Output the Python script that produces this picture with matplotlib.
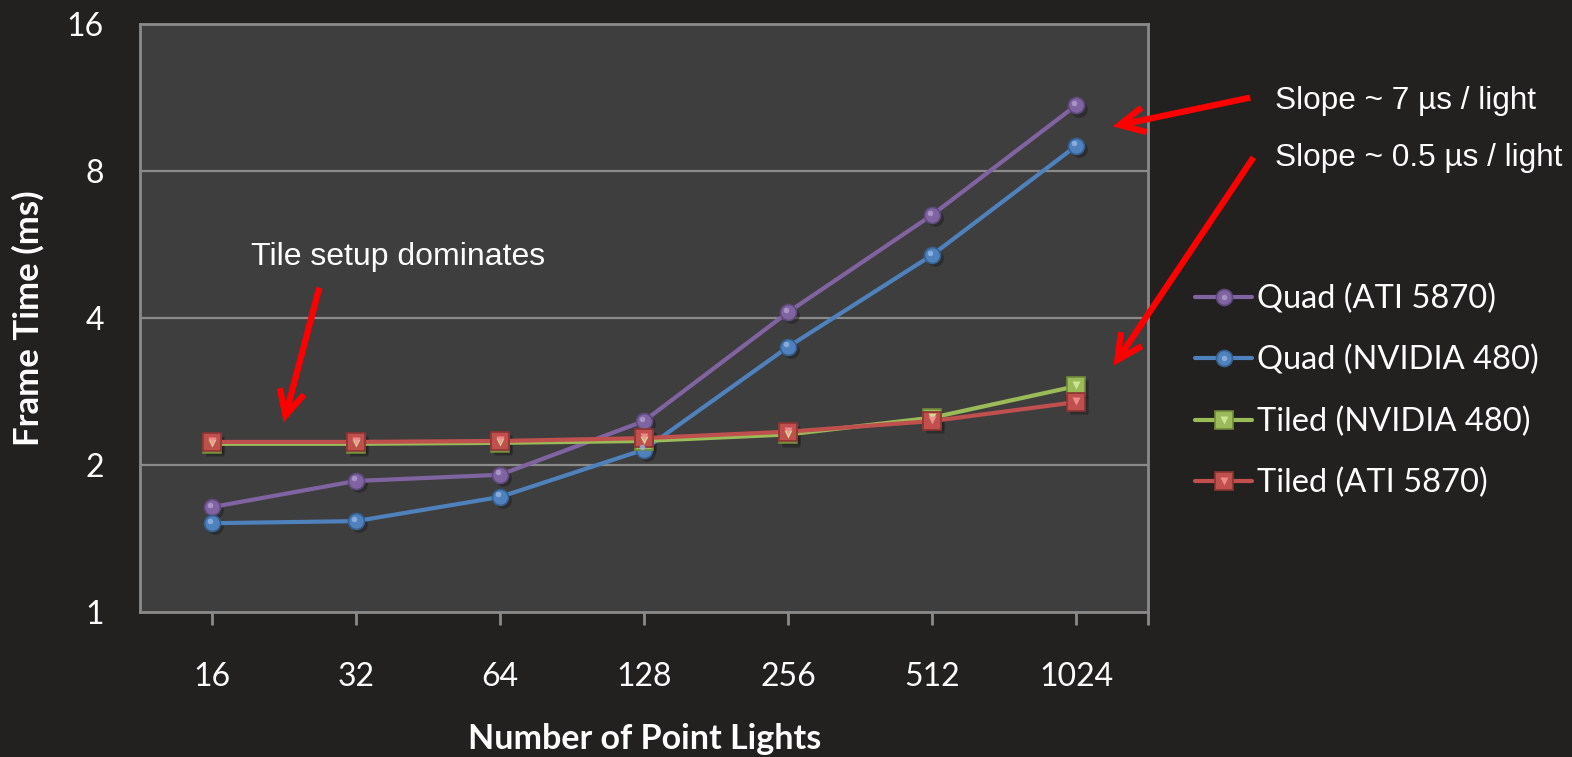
import matplotlib
matplotlib.use("Agg")
import matplotlib.pyplot as plt
import numpy as np
from matplotlib.legend_handler import HandlerTuple

lights = ["16", "32", "64", "128", "256", "512", "1024"]
quad_ati = [1.64, 1.855, 1.91, 2.46, 4.11, 6.5, 10.9]
quad_nv = [1.52, 1.535, 1.72, 2.15, 3.49, 5.38, 9.0]
tiled_nv = [2.21, 2.21, 2.22, 2.24, 2.31, 2.50, 2.90]
tiled_ati = [2.23, 2.23, 2.24, 2.27, 2.34, 2.46, 2.69]
y_ticks = [1, 2, 4, 8, 16]

BG = "#222120"
PLOT_BG = "#3e3e3e"
GRID = "#8a8a8a"
TICKFONT = "Lato"
NOTEFONT = "Liberation Sans"

W, H = 1572, 757
fig = plt.figure(figsize=(W / 100, H / 100), dpi=100, facecolor=BG)


def fp(x, y):
    # pixel position (from top-left) -> figure fraction
    return (x / W, 1 - y / H)


ax = fig.add_axes([140 / W, 1 - 612 / H, 1008 / W, 588 / H], facecolor=PLOT_BG)
ax.set_yscale("log", base=2)
ax.set_ylim(1, 16)
ax.set_xlim(0, 7)
xs = np.arange(len(lights)) + 0.5

for v in y_ticks[1:-1]:
    ax.axhline(v, color=GRID, lw=1.6, zorder=1)

handles = []
series = [
    (quad_ati, "#8064a2", "#5e4a7a", "#b39fd0", "Quad (ATI 5870)", "o"),
    (quad_nv, "#4f81bd", "#365f8f", "#93b8e6", "Quad (NVIDIA 480)", "o"),
    (tiled_nv, "#9bbb59", "#6f8a3a", "#d4eb9a", "Tiled (NVIDIA 480)", "s"),
    (tiled_ati, "#c0504d", "#8c3431", "#f0928f", "Tiled (ATI 5870)", "s"),
]
for vals, col, dark, light, name, mk in series:
    # shadow
    ax.plot(xs + 0.02, np.array(vals) * 0.985, mk, color="#1e1e1e", alpha=0.5,
            ms=12 if mk == "o" else 13, mec="none", zorder=2)
    ln, = ax.plot(xs, vals, color=col, lw=3, marker=mk,
                  ms=11.5 if mk == "o" else 12.5, mfc=col, mec=dark, mew=1.2,
                  zorder=3, solid_capstyle="round")
    if mk == "o":
        hl, = ax.plot(xs - 0.012, np.array(vals) * 1.012, "o", color=light,
                      ms=4, mec="none", alpha=0.8, zorder=4)
    else:
        hl, = ax.plot(xs, np.array(vals) * 1.004, "v", color=light,
                      ms=6, mec="none", alpha=0.9, zorder=4)
    handles.append(((ln, hl), name))

ax.set_yticks(y_ticks)
ax.set_yticklabels([str(v) for v in y_ticks])
ax.yaxis.set_minor_locator(matplotlib.ticker.NullLocator())
ax.set_xticks(list(xs) + [7])
ax.set_xticklabels(lights + [""])
ax.tick_params(axis="y", length=0, pad=26, labelsize=23, labelcolor="white")
ax.tick_params(axis="x", length=9, width=2, color=GRID, pad=27,
               labelsize=23, labelcolor="white")
for lab in ax.get_xticklabels() + ax.get_yticklabels():
    lab.set_fontfamily(TICKFONT)
for s in ax.spines.values():
    s.set_color(GRID)
    s.set_linewidth(2)

fig.text(*fp(645, 739), "Number of Point Lights", ha="center", va="center",
         fontsize=24.5, fontweight="bold", color="white", family=TICKFONT)
fig.text(*fp(28, 318), "Frame Time (ms)", ha="center", va="center", rotation=90,
         fontsize=25, fontweight="bold", color="white", family=TICKFONT)

leg = fig.legend([h for h, _ in handles], [n for _, n in handles],
                 handler_map={tuple: HandlerTuple(ndivide=1, pad=0)},
                 loc="center left", bbox_to_anchor=fp(1166, 391), frameon=False,
                 labelspacing=0.95, handlelength=1.75, handletextpad=0.15,
                 prop={"family": TICKFONT, "size": 23.5})
for t in leg.get_texts():
    t.set_color("white")

# annotations
fig.text(*fp(398, 257), "Tile setup dominates", ha="center", va="center",
         fontsize=23, color="white", family=NOTEFONT)
fig.text(*fp(1275, 101), "Slope ~ 7 \u00b5s / light", ha="left", va="center",
         fontsize=22.7, color="white", family=NOTEFONT)
fig.text(*fp(1275, 158), "Slope ~ 0.5 \u00b5s / light", ha="left", va="center",
         fontsize=22.7, color="white", family=NOTEFONT)

arrows = [((320, 285), (283, 425)), ((1253, 97), (1110, 127)),
          ((1255, 155), (1112, 368))]
for (x0, y0), (x1, y1) in arrows:
    fig.add_artist(matplotlib.patches.FancyArrowPatch(
        fp(x0, y0), fp(x1, y1), transform=fig.transFigure,
        arrowstyle="->,head_length=12,head_width=6", color="#ff0000",
        lw=4.5, mutation_scale=1.5, joinstyle="miter", capstyle="butt"))

fig.savefig("out.png", dpi=100, facecolor=BG)
